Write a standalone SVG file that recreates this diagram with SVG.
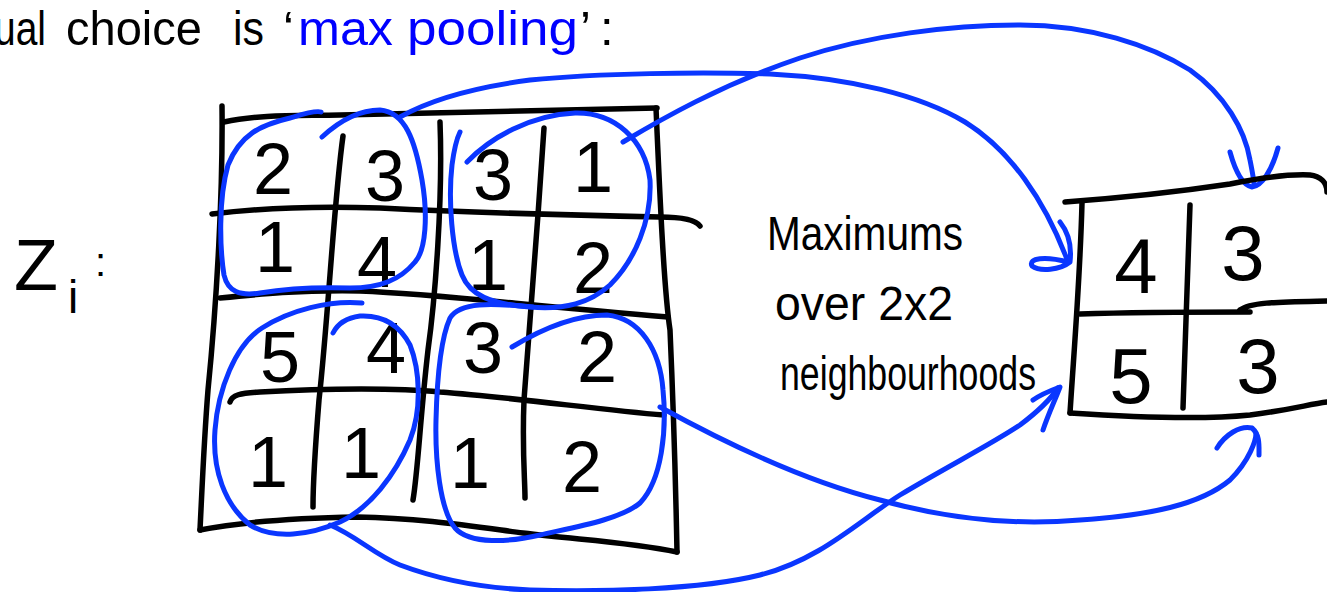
<svg xmlns="http://www.w3.org/2000/svg" width="1327" height="592" viewBox="0 0 1327 592">
<style>
.ink{fill:none;stroke:#000;stroke-width:5.5;stroke-linecap:round;stroke-linejoin:round}
.blue{fill:none;stroke:#0a36ff;stroke-width:5;stroke-linecap:round;stroke-linejoin:round}
.title{font-family:"Liberation Sans",Arial,sans-serif;font-size:49px;fill:#000}
.hl{fill:#0000ff}
.dig{font-family:"Liberation Sans",Arial,sans-serif;font-size:72px;fill:#000;text-anchor:middle}
.odig{font-family:"Liberation Sans",Arial,sans-serif;font-size:78px;fill:#000;text-anchor:middle}
.note{font-family:"Liberation Sans",Arial,sans-serif;font-size:48px;fill:#000}
</style>
<rect width="1327" height="592" fill="#fff"/>

<g id="title">
<text class="title" y="45"><tspan x="-6" textLength="52" lengthAdjust="spacingAndGlyphs">ual</tspan><tspan x="66" textLength="136" lengthAdjust="spacingAndGlyphs">choice</tspan><tspan x="233" textLength="31" lengthAdjust="spacingAndGlyphs">is</tspan><tspan x="283">‘</tspan><tspan class="hl" x="298" textLength="95" lengthAdjust="spacingAndGlyphs">max</tspan><tspan class="hl" x="407" textLength="171" lengthAdjust="spacingAndGlyphs">pooling</tspan><tspan x="580">’</tspan><tspan x="600">:</tspan></text>
</g>

<g id="zi-label">
<text class="note" x="14" y="290" style="font-size:72px">Z</text>
<text class="note" x="68" y="313" style="font-size:46px">i</text>
<text class="note" x="95" y="276" style="font-size:40px">:</text>
</g>

<g id="input-grid">
<path class="ink" d="M224,122 C260,114 300,116 340,115 C420,114 520,112 657,108"/>
<path class="ink" d="M222,106 C223,190 217,300 208,390 C204,440 202,490 200,530"/>
<path class="ink" d="M200,530 C240,522 300,518 357,517 C420,518 470,526 523,533 C580,540 630,542 677,552"/>
<path class="ink" d="M656,108 C660,200 664,290 670,330 C674,420 676,500 677,552"/>
<path class="ink" d="M212,214 C260,208 320,206 380,208 C460,212 560,215 660,217 C680,217 695,219 700,226"/>
<path class="ink" d="M220,298 C260,294 300,290 360,291 C440,294 520,305 668,317"/>
<path class="ink" d="M230,402 C232,395 240,393 260,392 C330,388 400,388 440,392 C520,398 600,410 664,415"/>
<path class="ink" d="M343,136 C334,200 328,320 319,400 C315,450 313,480 313,507"/>
<path class="ink" d="M440,122 C443,200 435,300 428,350 C420,420 418,470 413,500"/>
<path class="ink" d="M544,128 C538,220 530,320 524,400 C522,450 525,480 525,498"/>
<text class="dig" x="273" y="194">2</text>
<text class="dig" x="385" y="201">3</text>
<text class="dig" x="493" y="200">3</text>
<text class="dig" x="593" y="192">1</text>
<text class="dig" x="275" y="272">1</text>
<text class="dig" x="377" y="287">4</text>
<text class="dig" x="488" y="290">1</text>
<text class="dig" x="593" y="293">2</text>
<text class="dig" x="280" y="382">5</text>
<text class="dig" x="386" y="373">4</text>
<text class="dig" x="483" y="373">3</text>
<text class="dig" x="597" y="382">2</text>
<text class="dig" x="268" y="487">1</text>
<text class="dig" x="361" y="478">1</text>
<text class="dig" x="470" y="488">1</text>
<text class="dig" x="582" y="492">2</text>
</g>

<g id="neighbourhood-loops">
<path class="blue" d="M322,137 C335,125 355,110 380,110 C405,112 415,140 422,180 C428,215 426,250 415,262 C400,280 380,288 350,288 C320,287 290,288 260,293 C240,296 228,292 224,275 C220,250 218,200 228,165 C240,135 260,125 290,118 C300,115 315,110 321,112"/>
<path class="blue" d="M467,162 C490,138 530,115 575,113 C615,112 645,140 650,180 C652,220 635,260 610,285 C590,303 565,310 530,307 C490,304 470,295 462,275 C452,250 448,200 452,165 C454,150 456,140 460,132"/>
<path class="blue" d="M362,303 C330,300 290,310 262,328 C235,345 218,390 215,430 C212,470 225,505 250,525 C275,540 310,535 340,522 C370,508 395,475 410,440 C422,410 420,370 410,345 C398,322 380,315 360,316 C345,318 337,325 333,333"/>
<path class="blue" d="M512,347 C540,330 575,315 607,315 C640,318 660,350 663,390 C667,430 662,480 640,503 C620,520 570,528 540,535 C510,542 470,545 455,528 C440,510 435,460 436,420 C437,380 440,340 450,318 C460,302 490,303 533,307"/>
</g>

<g id="connectors">
<path class="blue" d="M400,117 C430,100 470,88 530,80 C600,73 700,72 770,74 C850,78 920,95 965,122 C1010,150 1045,200 1068,262"/>
<path class="blue" d="M1060,222 C1068,232 1072,245 1070,262 C1060,270 1040,272 1032,266 C1028,258 1045,256 1068,262"/>
<path class="blue" d="M623,142 C660,120 720,85 800,58 C870,35 950,25 1020,25 C1090,25 1150,45 1190,70 C1225,95 1245,130 1250,160 C1253,175 1254,183 1254,185"/>
<path class="blue" d="M1230,152 C1235,170 1242,185 1252,187 C1262,186 1272,170 1278,148"/>
<path class="blue" d="M660,407 C720,440 800,480 880,500 C950,520 1020,525 1080,520 C1150,515 1200,505 1230,480 C1250,460 1256,440 1256,433"/>
<path class="blue" d="M1217,448 C1225,435 1240,425 1252,428 C1260,435 1259,445 1259,455"/>
<path class="blue" d="M330,525 C355,535 375,555 400,565 C440,580 480,588 530,590 C600,592 700,590 760,575 C820,560 860,520 900,495 C950,465 990,445 1020,425 C1040,410 1050,400 1058,388"/>
<path class="blue" d="M1033,400 C1040,395 1052,390 1060,387 C1055,400 1048,415 1043,430"/>
</g>

<g id="note">
<text class="note" x="767" y="250" textLength="196" lengthAdjust="spacingAndGlyphs">Maximums</text>
<text class="note" x="775" y="320" textLength="178" lengthAdjust="spacingAndGlyphs">over 2x2</text>
<text class="note" x="780" y="390" textLength="256" lengthAdjust="spacingAndGlyphs">neighbourhoods</text>
</g>

<g id="output-grid">
<path class="ink" d="M1065,202 C1120,198 1190,190 1230,184 C1260,178 1290,174 1310,175 C1320,176 1327,182 1327,192"/>
<path class="ink" d="M1082,203 C1080,280 1074,350 1070,413"/>
<path class="ink" d="M1070,413 C1130,417 1200,420 1250,415 C1290,410 1310,404 1327,402"/>
<path class="ink" d="M1080,314 C1140,312 1200,312 1250,312 M1240,310 C1250,302 1280,302 1327,301"/>
<path class="ink" d="M1190,205 L1186,320 L1183,408"/>
<text class="odig" x="1136" y="293">4</text>
<text class="odig" x="1243" y="280">3</text>
<text class="odig" x="1131" y="403">5</text>
<text class="odig" x="1258" y="393">3</text>
</g>
</svg>
